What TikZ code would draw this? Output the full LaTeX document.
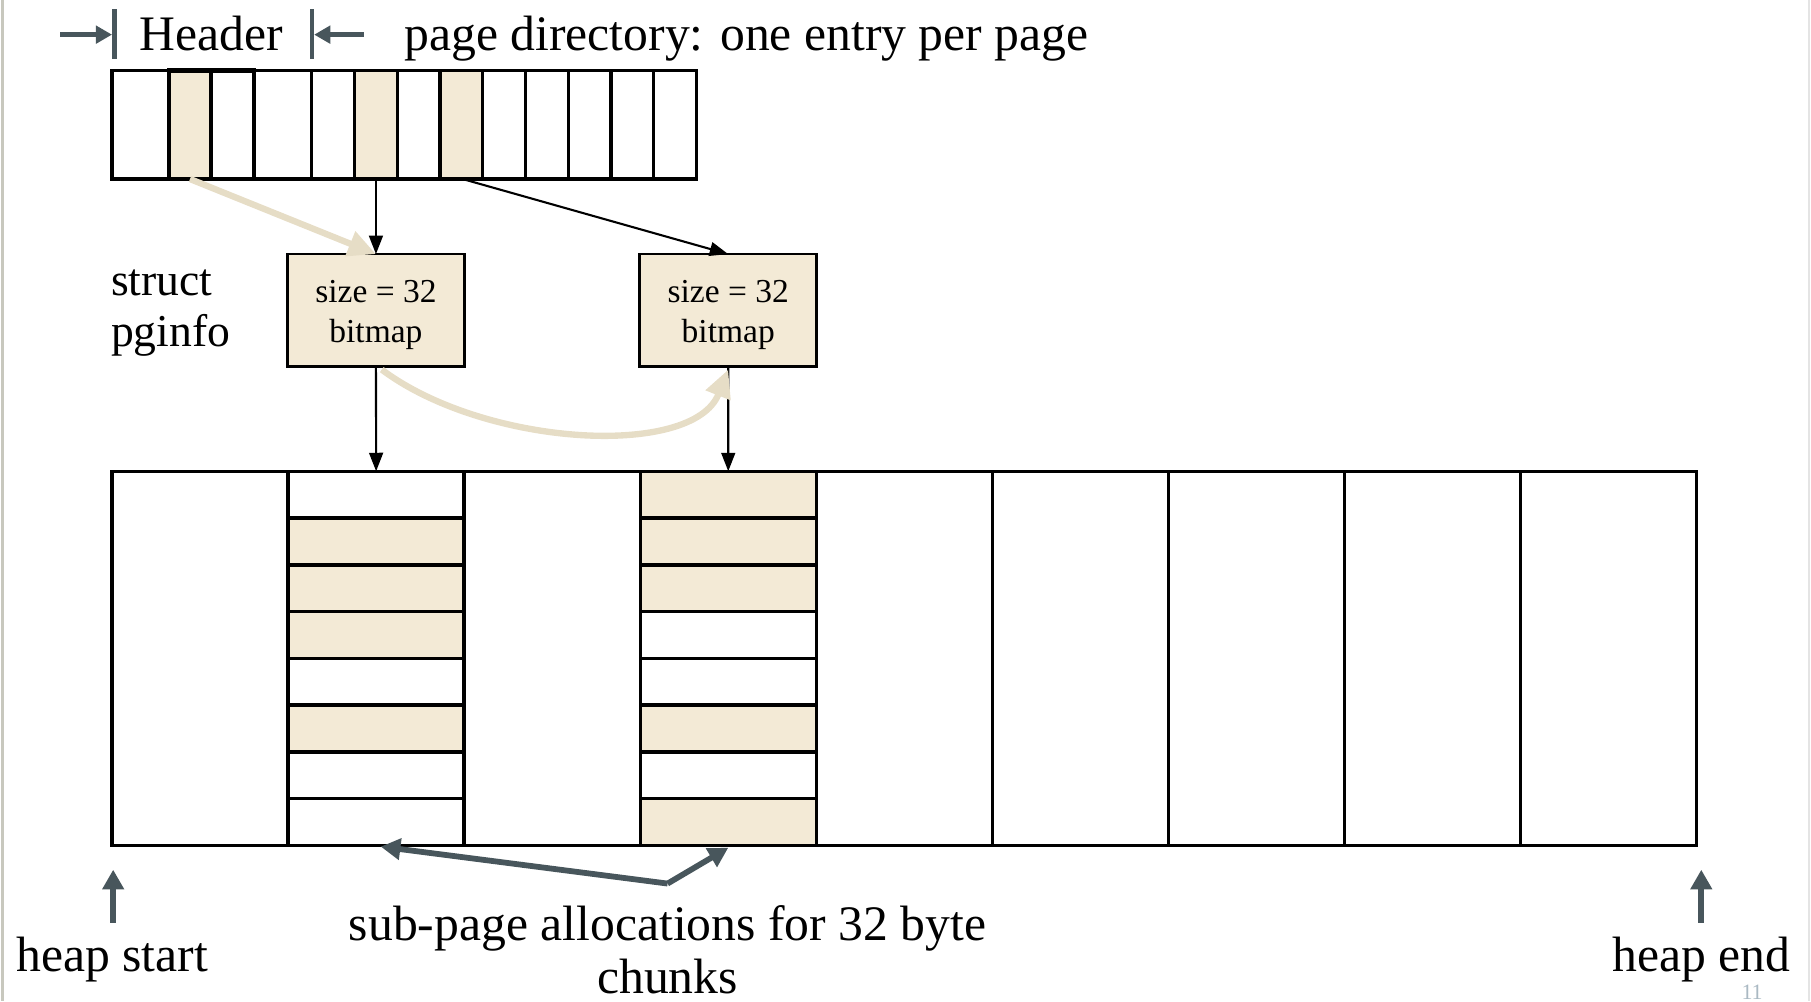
\documentclass[tikz,border=0pt]{standalone}
\usepackage{fontspec}
\setmainfont{Liberation Serif}
\usetikzlibrary{arrows.meta}
\definecolor{beige}{RGB}{243,234,214}
\definecolor{beigearrow}{RGB}{230,221,198}
\definecolor{slate}{RGB}{72,86,92}
\definecolor{pgnum}{RGB}{170,185,195}
\definecolor{framegray}{RGB}{200,200,190}
\definecolor{framelight}{RGB}{228,228,228}
\begin{document}
\begin{tikzpicture}[x=1pt,y=-1pt,
  dircell/.style={draw=black, line width=2.8pt, inner sep=0pt, outer sep=0pt, minimum height=94pt},
  heapcol/.style={draw=black, line width=3pt, inner sep=0pt, outer sep=0pt, minimum width=152.44pt, minimum height=324pt},
  heaprow/.style={draw=black, line width=3pt, inner sep=0pt, outer sep=0pt, minimum width=152.44pt, minimum height=40.5pt},
  infobox/.style={draw=black, line width=2.4pt, fill=beige, inner sep=0pt, outer sep=0pt, minimum width=153pt, minimum height=97pt},
  boxtext/.style={align=center, inner sep=0pt, font=\fontsize{29}{35}\selectfont},
  bigtext/.style={font=\fontsize{43}{48}\selectfont, inner sep=0pt},
  midtext/.style={font=\fontsize{39.5}{44}\selectfont, inner sep=0pt},
  blackarrow/.style={draw=black, line width=1.8pt, -{Triangle[length=16pt,width=12pt]}},
  beigearr/.style={draw=beigearrow, line width=5.5pt, -{Triangle[length=24pt,width=22pt]}},
  slatearrow/.style={draw=slate, line width=5pt, -{Triangle[length=17pt,width=18pt]}},
  slatebar/.style={draw=slate, line width=4pt}
]
\useasboundingbox (0,0) rectangle (1568,867);
% slide frame lines
\draw[framegray, line width=2.5pt] (2,0) -- (2,867);
\draw[framelight, line width=1.5pt] (1566.5,0) -- (1566.5,867);

% header annotation
\node[bigtext, anchor=base] (hdr) at (183,44) {Header};
\node[bigtext, anchor=base west] (pdtitle) at (350,44) {page directory: one entry per page};
\coordinate (hbl1) at (99,8);  \coordinate (hbl2) at (99,51);
\coordinate (hbr1) at (270,8); \coordinate (hbr2) at (270,51);
\draw[slatebar] (hbl1) -- (hbl2);
\draw[slatebar] (hbr1) -- (hbr2);
\coordinate (hal) at (52,30); \coordinate (halt) at (97,30);
\coordinate (har) at (315,30); \coordinate (hart) at (272,30);
\draw[draw=slate, line width=4pt, -{Triangle[length=14pt,width=15pt]}] (hal) -- (halt);
\draw[draw=slate, line width=4pt, -{Triangle[length=14pt,width=15pt]}] (har) -- (hart);

% page directory
\foreach \a/\b/\f [count=\i] in {97/146/white,146/183/beige,183/220/white,220/270/white,270/307/white,307/344/beige,344/381/white,381/418/beige,418/455/white,455/492/white,492/529/white,529/566/white,566/603/white}{
  \node[dircell, fill=\f, minimum width={(\b-\a)*1pt}] (d\i) at ({(\a+\b)/2},108) {};
}
\draw[line width=3.6pt] (146,61) rectangle (220,155);
\draw[line width=3.6pt] (183,61) -- (183,155);

% struct pginfo label
\node[midtext, anchor=base west] (struct) at (96,256) {struct};
\node[midtext, anchor=base west] (pginfo) at (96,300) {pginfo};

% pginfo boxes
\node[infobox] (p1) at (325.5,268.5) {};
\node[infobox] (p2) at (630.5,268.5) {};
\node[boxtext, yshift=-4pt] (p1t) at (p1.center) {size = 32\\bitmap};
\node[boxtext, yshift=-4pt] (p2t) at (p2.center) {size = 32\\bitmap};

% heap
\foreach \i in {1,...,9}{
  \node[heapcol] (h\i) at ({97+152.44*(\i-0.5)},570) {};
}
\foreach \f [count=\r] in {white,beige,beige,beige,white,beige,white,white}{
  \node[heaprow, fill=\f] (h2r\r) at ({97+152.44*1.5},{408+40.5*(\r-0.5)}) {};
}
\foreach \f [count=\r] in {beige,beige,beige,white,white,beige,white,beige}{
  \node[heaprow, fill=\f] (h4r\r) at ({97+152.44*3.5},{408+40.5*(\r-0.5)}) {};
}

% arrows from directory
\draw[beigearr] (d2.south) -- (p1.north);
\draw[blackarrow] (d6.south) -- (p1.north);
\draw[blackarrow] ([xshift=1pt]d8.south) -- (p2.north);
% arrows to heap
\draw[blackarrow] (p1.south) -- (h2.north);
\draw[blackarrow] (p2.south) -- (h4.north);
\draw[beigearr] ([xshift=5pt,yshift=-3pt]p1.south) .. controls (420,387) and (600,397) .. ([yshift=-3pt]p2.south);

% sub-page allocation arrows
\coordinate (sp) at (578,765);
\draw[slatearrow] (sp) -- ([xshift=4pt,yshift=-1pt]h2.south);
\draw[slatearrow] (sp) -- ([yshift=-2pt]h4.south);
\node[bigtext, anchor=base] (sub1) at (578,814) {sub-page allocations for 32 byte};
\node[bigtext, anchor=base] (sub2) at (578,860) {chunks};

% heap start / end
\coordinate (hsb) at (98,799); \coordinate (hst) at (98,753);
\coordinate (heb) at (1473,799); \coordinate (het) at (1473,753);
\draw[slatearrow] (hsb) -- (hst);
\draw[slatearrow] (heb) -- (het);
\node[bigtext, anchor=base] (hstart) at (97,841) {heap start};
\node[bigtext, anchor=base] (hend) at (1473,841) {heap end};

% page number
\node[anchor=base, text=pgnum, font=\fontsize{19}{23}\selectfont, inner sep=0pt] (pnum) at (1517,865.5) {11};
\end{tikzpicture}
\end{document}
